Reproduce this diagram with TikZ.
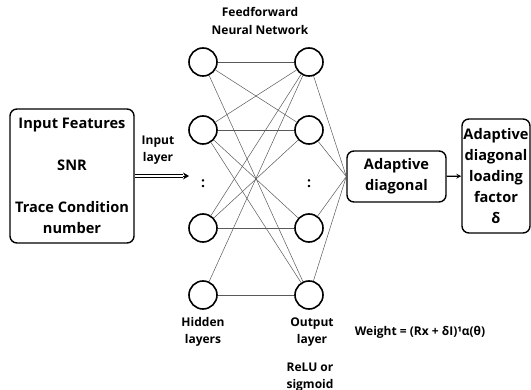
\documentclass[tikz,border=0pt]{standalone}
\usepackage{fontspec}
\setmainfont{Open Sans}
\usetikzlibrary{shapes.geometric, arrows, arrows.meta}
\tikzstyle{arrow} = [line width=1.2pt, ->, >=stealth]
\tikzstyle{rail} = [draw=black, line width=0.9pt]
\tikzstyle{tip} = [line width=0.8pt, -{Stealth[length=6pt, width=7pt]}]
\tikzstyle{block} = [rectangle, rounded corners=7pt, line width=1.4pt, draw=black, text centered, align=center, inner sep=0pt, font=\bfseries\fontsize{14.6}{21}\selectfont]
\tikzstyle{neuron} = [circle, draw=black, line width=1.6pt, minimum size=28pt, inner sep=0pt]
\tikzstyle{link} = [draw=black!65, line width=0.5pt]
\tikzstyle{note} = [align=center, inner sep=0pt, font=\bfseries\fontsize{12}{17.5}\selectfont]

\begin{document}
\begin{tikzpicture}[x=1pt, y=-1pt]
		\useasboundingbox (0,0) rectangle (531,390);
		% layers
		\node(h1) [neuron] at (203,62) {};
		\node(h2) [neuron] at (203,130) {};
		\node(h3) [neuron] at (203,228) {};
		\node(h4) [neuron] at (203,295) {};
		\node(o1) [neuron] at (309,62) {};
		\node(o2) [neuron] at (309,130) {};
		\node(o3) [neuron] at (309,228) {};
		\node(o4) [neuron] at (309,295) {};
		\node(hdots) [note, font=\bfseries\fontsize{14}{17}\selectfont] at (203,184) {:};
		\node(odots) [note, font=\bfseries\fontsize{14}{17}\selectfont] at (309,184) {:};
		% boxes
		\node(inp) [block, minimum width=124pt, minimum height=134pt] at (72,176) {Input Features\\[21pt]SNR\\[21pt]Trace Condition\\number};
		\node(ad) [block, minimum width=99pt, minimum height=51pt] at (396.5,176.5) {Adaptive\\diagonal};
		\node(dl) [block, minimum width=68pt, minimum height=114pt] at (496,176) {Adaptive\\diagonal\\loading\\factor\\δ};
		\coordinate(in) at (189,176);
		\coordinate(inbase) at (183,176);
		% texts
		\node(title) [note] at (260,21) {Feedforward\\Neural Network};
		\node(inl) [note] at (158,150) {Input\\layer};
		\node(hid) [note] at (203,332) {Hidden\\layers};
		\node(outl) [note] at (312,332) {Output\\layer};
		\node(act) [note] at (310,377) {ReLU or\\sigmoid};
		\node(wt) [note] at (420,332) {Weight = (Rx + δI)¹α(θ)};
		% links
		\draw [link] (h1) -- (o1);
		\draw [link] (h1) -- (o2);
		\draw [link] (h1) -- (o4);
		\draw [link] (h2) -- (o1);
		\draw [link] (h2) -- (o2);
		\draw [link] (h2) -- (o3);
		\draw [link] (h2) -- (o4);
		\draw [link] (h3) -- (o1);
		\draw [link] (h3) -- (o2);
		\draw [link] (h3) -- (o3);
		\draw [link] (h4) -- (o1);
		\draw [link] (h4) -- (o4);
		\draw [link] (o1) -- (ad.west);
		\draw [link] (o2) -- (ad.west);
		\draw [link] (o3) -- (ad.west);
		\draw [link] (o4) -- (ad.west);
		\draw [rail] ([yshift=1.6pt]inp.east) -- ([yshift=1.6pt]inbase);
		\draw [rail] ([yshift=-1.6pt]inp.east) -- ([yshift=-1.6pt]inbase);
		\draw [tip] (inbase) -- (in);
		\draw [arrow] (ad) -- (dl);
	\end{tikzpicture}
\end{document}
